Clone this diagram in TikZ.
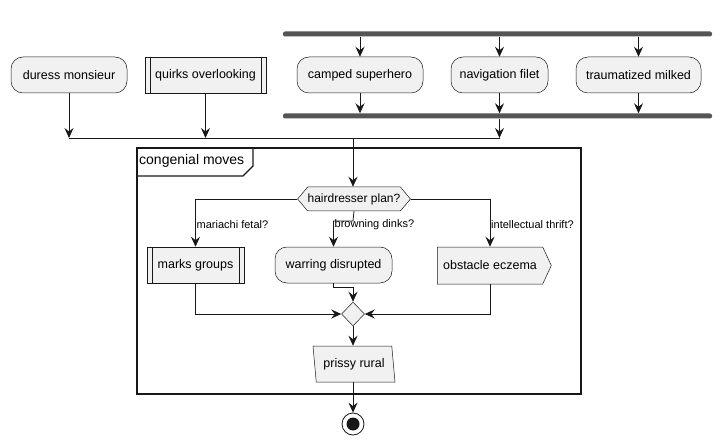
\documentclass[tikz,border=0pt]{standalone}
\usepackage{fontspec}
\setmainfont{Liberation Sans}
\usetikzlibrary{arrows.meta}
\usetikzlibrary{positioning}
\usetikzlibrary{math}
\usetikzlibrary{shapes.geometric, shapes.symbols}
\definecolor{boxfill}{HTML}{F1F1F1}
\definecolor{boxline}{HTML}{181818}
\definecolor{barfill}{HTML}{555555}
\tikzstyle{base} = [draw=boxline, fill=boxfill, line width=0.5pt, minimum height=36pt, inner sep=0pt, font=\fontsize{12.5}{15}\selectfont]
\tikzstyle{act} = [base, rectangle, rounded corners=12pt]
\tikzstyle{sub} = [base, rectangle]
\tikzstyle{io} = [base, trapezium, trapezium left angle=105.5, trapezium right angle=74.5, trapezium stretches body]
\tikzstyle{choice} = [base, signal, signal to=west and east, signal pointer angle=100, minimum height=24pt, font=\fontsize{12}{14}\selectfont]
\tikzstyle{send} = [base, signal, signal to=east, signal pointer angle=130]
\tikzstyle{bar} = [rectangle, fill=barfill, minimum width=429pt, minimum height=5pt, rounded corners=2pt, inner sep=0pt]
\tikzstyle{merge} = [diamond, draw=boxline, fill=boxfill, line width=0.5pt, minimum width=23pt, minimum height=24pt, inner sep=0pt]
\tikzstyle{stopnode} = [circle, draw=boxline, fill=white, line width=0.8pt, minimum size=22pt, inner sep=0pt]
\tikzstyle{guard} = [anchor=west, inner sep=1pt, font=\fontsize{11}{13}\selectfont]
\tikzstyle{line} = [draw=boxline, line width=0.8pt]
\tikzstyle{arrow} = [line, -{Stealth[length=10pt,width=9pt,inset=3.5pt]}]

\begin{document}
\begin{tikzpicture}[x=1pt, y=-1pt]

  \tikzmath{\rowA = 75; \mrgy = 138; \col = 353; \gy = 225;}
  \useasboundingbox (0,0) rectangle (722,446);

  % top row
  \node[act, minimum width=116pt] (duress) at (69,\rowA) {duress monsieur};
  \node[sub, minimum width=121pt] (quirks) at (205.5,\rowA) {quirks overlooking};
  \draw[line, line width=0.5pt] ([xshift=5pt]quirks.north west) -- ([xshift=5pt]quirks.south west);
  \draw[line, line width=0.5pt] ([xshift=-5pt]quirks.north east) -- ([xshift=-5pt]quirks.south east);

  \node[bar] (forktop) at (497.5,34) {};
  \node[bar] (forkbot) at (497.5,116) {};
  \node[act, minimum width=126pt] (camped) at (360,\rowA) {camped superhero};
  \node[act, minimum width=97pt] (navfilet) at (499.5,\rowA) {navigation filet};
  \node[act, minimum width=125pt] (milked) at (638.5,\rowA) {traumatized milked};

  \foreach \n in {camped, navfilet, milked} {
    \draw[arrow] (\n |- forktop.south) -- (\n.north);
    \draw[arrow] (\n.south) -- (\n |- forkbot.north);
  }

  \coordinate (join) at (\col,\mrgy);
  \draw[arrow] (duress.south) -- (duress |- join);
  \draw[arrow] (quirks.south) -- (quirks |- join);
  \draw[arrow] (forkbot.south -| navfilet) -- (navfilet |- join);
  \draw[line] (duress |- join) -- (navfilet |- join);

  % group frame
  \draw[line, line width=1.4pt] (137,148) rectangle (581,394);
  \draw[line, line width=1.1pt] (137,176) -- (243,176) -- (253,166) -- (253,148);
  \node[anchor=west, inner sep=0pt, font=\fontsize{14}{16}\selectfont] (frametab) at (139,161) {congenial moves};

  \node[choice, minimum width=108pt] (hair) at (354,199) {hairdresser plan?};
  \draw[arrow] (join) -- (join |- hair.north);

  \node[sub, minimum width=97pt] (marks) at (195.5,265) {marks groups};
  \draw[line, line width=0.5pt] ([xshift=5pt]marks.north west) -- ([xshift=5pt]marks.south west);
  \draw[line, line width=0.5pt] ([xshift=-5pt]marks.north east) -- ([xshift=-5pt]marks.south east);
  \node[act, minimum width=117pt] (warring) at (333.5,265) {warring disrupted};
  \node[send, minimum width=114pt, minimum height=37pt] (obstacle) at (490,265.5) {obstacle eczema};

  \coordinate (elbow) at (\col,221);
  \draw[arrow] (hair.west) -| (marks.north);
  \draw[arrow] (hair.south |- hair.south) -- (elbow) -| (warring.north);
  \draw[arrow] (hair.east) -| (obstacle.north);
  \node[guard] (g1) at (marks.north |- 0,\gy) {mariachi fetal?};
  \node[guard] (g2) at (warring.north |- 0,\gy) {browning dinks?};
  \node[guard] (g3) at (obstacle.north |- 0,\gy) {intellectual thrift?};

  \node[merge] (mrg) at (\col,314) {};
  \draw[arrow] (marks.south) |- (mrg.west);
  \draw[arrow] (obstacle.south) |- (mrg.east);
  \draw[arrow] (warring.south) -- ++(0,4) -| (mrg.north);

  \node[io, minimum width=82pt] (prissy) at (354,364) {prissy rural};
  \draw[arrow] (mrg.south) -- (mrg |- prissy.north);

  \node[stopnode] (stop) at (\col,424) {};
  \fill[boxline] (stop.center) circle (6.5pt);
  \draw[arrow] (prissy.south -| stop) -- (stop.north);

\end{tikzpicture}
\end{document}
